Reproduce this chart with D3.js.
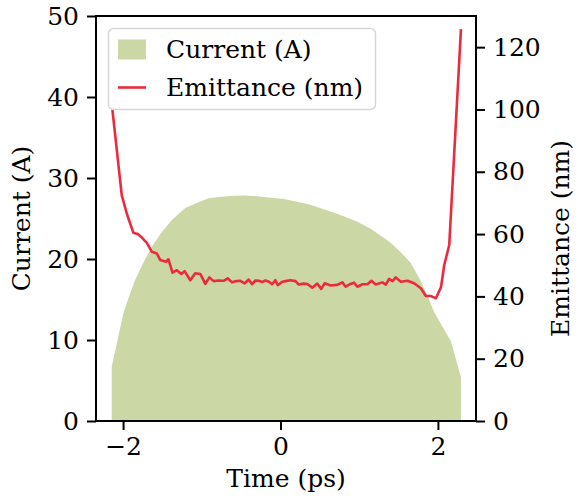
<!DOCTYPE html>
<html>
<head>
<meta charset="utf-8">
<script src="https://cdn.jsdelivr.net/npm/d3@7"></script>
<style>
  body { margin: 0; background: #fff; }
  svg { display: block; font-family: "DejaVu Serif", serif; }
  .axis { font-family: "DejaVu Serif", serif; }
  .axis text { font-size: 25px; fill: #000; }
  .axis line, .axis path { stroke: #000; stroke-width: 2; }
</style>
</head>
<body>
<svg width="576" height="501"></svg>
<script>
// current profile (A) vs time (ps)
const currentTime = [-2.144, -2.07, -1.996, -1.92, -1.847, -1.74, -1.635, -1.51, -1.38, -1.21,
  -1.02, -0.913, -0.75, -0.595, -0.45, -0.297, -0.15, 0.04, 0.2, 0.38,
  0.53, 0.68, 0.83, 0.977, 1.15, 1.316, 1.40, 1.53, 1.656, 1.78,
  1.87, 1.95, 2.05, 2.166, 2.23, 2.293];
const currentValues = [6.7, 10.0, 13.3, 15.5, 17.4, 19.6, 21.5, 23.3, 24.8, 26.3,
  27.1, 27.5, 27.7, 27.8, 27.85, 27.75, 27.6, 27.4, 27.1, 26.7,
  26.2, 25.7, 25.2, 24.6, 23.7, 22.6, 22.0, 20.8, 19.5, 17.3,
  15.4, 13.5, 11.8, 9.8, 7.6, 5.4];

// slice emittance (nm) vs time (ps)
const emitTime = [-2.136, -2.017, -1.953, -1.869, -1.813, -1.758, -1.698, -1.634, -1.571, -1.529,
  -1.456, -1.423, -1.372, -1.316, -1.261, -1.219, -1.146, -1.083, -1.019, -0.955,
  -0.904, -0.850, -0.790, -0.722, -0.671, -0.615, -0.561, -0.510, -0.455, -0.404,
  -0.361, -0.318, -0.276, -0.233, -0.191, -0.146, -0.106, -0.064, -0.034, 0.022,
  0.064, 0.127, 0.191, 0.233, 0.293, 0.340, 0.404, 0.467, 0.518, 0.561,
  0.637, 0.722, 0.786, 0.828, 0.879, 0.934, 0.977, 1.041, 1.104, 1.155,
  1.210, 1.295, 1.338, 1.380, 1.423, 1.465, 1.529, 1.614, 1.698, 1.783,
  1.847, 1.911, 1.975, 2.040, 2.080, 2.144, 2.293];
const emitValues = [100, 72.5, 66.6, 60.4, 60.0, 58.8, 57.2, 54.3, 53.8, 51.7,
  51.1, 51.9, 47.6, 48.4, 47.2, 48.1, 45.2, 47.4, 47.2, 44.0,
  46.1, 44.9, 45.1, 45.0, 45.8, 44.5, 44.9, 45.0, 44.2, 45.4,
  43.9, 45.1, 45.0, 44.6, 45.1, 44.7, 43.9, 45.2, 43.6, 44.7,
  44.9, 45.2, 44.9, 43.8, 44.1, 44.0, 42.8, 44.1, 42.4, 44.2,
  43.5, 43.7, 44.5, 43.1, 43.9, 44.4, 43.1, 43.9, 43.9, 45.0,
  43.8, 44.5, 43.8, 45.6, 44.9, 46.1, 44.7, 45.0, 44.2, 42.6,
  40.1, 40.1, 39.4, 43.0, 50.0, 56.5, 125.8];

const xTicks = [-2, 0, 2];
const currentTicks = [0, 10, 20, 30, 40, 50];
const emitTicks = [0, 20, 40, 60, 80, 100, 120];

const fillColor = '#cbd8a6';
const lineColor = '#ec2a3d';

const svg = d3.select('svg');
const plotLeft = 96, plotRight = 476, plotTop = 16, plotBottom = 421;

const x = d3.scaleLinear().domain([-2.344, 2.484]).range([plotLeft, plotRight]);
const yCur = d3.scaleLinear().domain([0, 50]).range([plotBottom, plotTop]);
const yEmit = d3.scaleLinear().domain([0, 130]).range([plotBottom, plotTop]);

const current = currentTime.map((t, i) => ({t: t, v: currentValues[i]}));
const emit = emitTime.map((t, i) => ({t: t, v: emitValues[i]}));

svg.append('path')
  .datum(current)
  .attr('fill', fillColor)
  .attr('d', d3.area().x(d => x(d.t)).y0(yCur(0)).y1(d => yCur(d.v)));

svg.append('path')
  .datum(emit)
  .attr('fill', 'none')
  .attr('stroke', lineColor)
  .attr('stroke-width', 2.6)
  .attr('stroke-linejoin', 'round')
  .attr('d', d3.line().x(d => x(d.t)).y(d => yEmit(d.v)));

// axes
const fmt = d => d < 0 ? '\u2212' + Math.abs(d) : String(d);
const styleAxis = g => {
  g.attr('font-family', null).attr('font-size', null);
  g.select('.domain').remove();
};
svg.append('g').attr('class', 'axis')
  .attr('transform', `translate(0,${plotBottom})`)
  .call(d3.axisBottom(x).tickValues(xTicks).tickFormat(fmt).tickSize(9).tickPadding(7).tickSizeOuter(0))
  .call(styleAxis);
svg.append('g').attr('class', 'axis')
  .attr('transform', `translate(${plotLeft},0)`)
  .call(d3.axisLeft(yCur).tickValues(currentTicks).tickSize(9).tickPadding(8).tickSizeOuter(0))
  .call(styleAxis);
svg.append('g').attr('class', 'axis')
  .attr('transform', `translate(${plotRight},0)`)
  .call(d3.axisRight(yEmit).tickValues(emitTicks).tickSize(9).tickPadding(8).tickSizeOuter(0))
  .call(styleAxis);

svg.append('rect')
  .attr('x', plotLeft).attr('y', plotTop)
  .attr('width', plotRight - plotLeft).attr('height', plotBottom - plotTop)
  .attr('fill', 'none').attr('stroke', '#000').attr('stroke-width', 2);

// axis labels
svg.append('text')
  .attr('x', (plotLeft + plotRight) / 2).attr('y', 487)
  .attr('text-anchor', 'middle').attr('font-size', 25)
  .text('Time (ps)');
svg.append('text')
  .attr('transform', `translate(30,${(plotTop + plotBottom) / 2}) rotate(-90)`)
  .attr('text-anchor', 'middle').attr('font-size', 25)
  .text('Current (A)');
svg.append('text')
  .attr('transform', `translate(569,${(plotTop + plotBottom) / 2 + 20}) rotate(-90)`)
  .attr('text-anchor', 'middle').attr('font-size', 25)
  .text('Emittance (nm)');

// legend
const legend = svg.append('g');
legend.append('rect')
  .attr('x', 108.5).attr('y', 28.5).attr('width', 267).attr('height', 81)
  .attr('rx', 5)
  .attr('fill', '#fff').attr('fill-opacity', 0.8)
  .attr('stroke', '#d6d6d6').attr('stroke-width', 1.5);
legend.append('rect')
  .attr('x', 118).attr('y', 39.5).attr('width', 28).attr('height', 20)
  .attr('fill', fillColor);
legend.append('line')
  .attr('x1', 118).attr('x2', 146).attr('y1', 87.5).attr('y2', 87.5)
  .attr('stroke', lineColor).attr('stroke-width', 2.6);
legend.append('text')
  .attr('x', 166).attr('y', 58).attr('font-size', 25)
  .text('Current (A)');
legend.append('text')
  .attr('x', 166).attr('y', 96).attr('font-size', 25)
  .text('Emittance (nm)');
</script>
</body>
</html>
